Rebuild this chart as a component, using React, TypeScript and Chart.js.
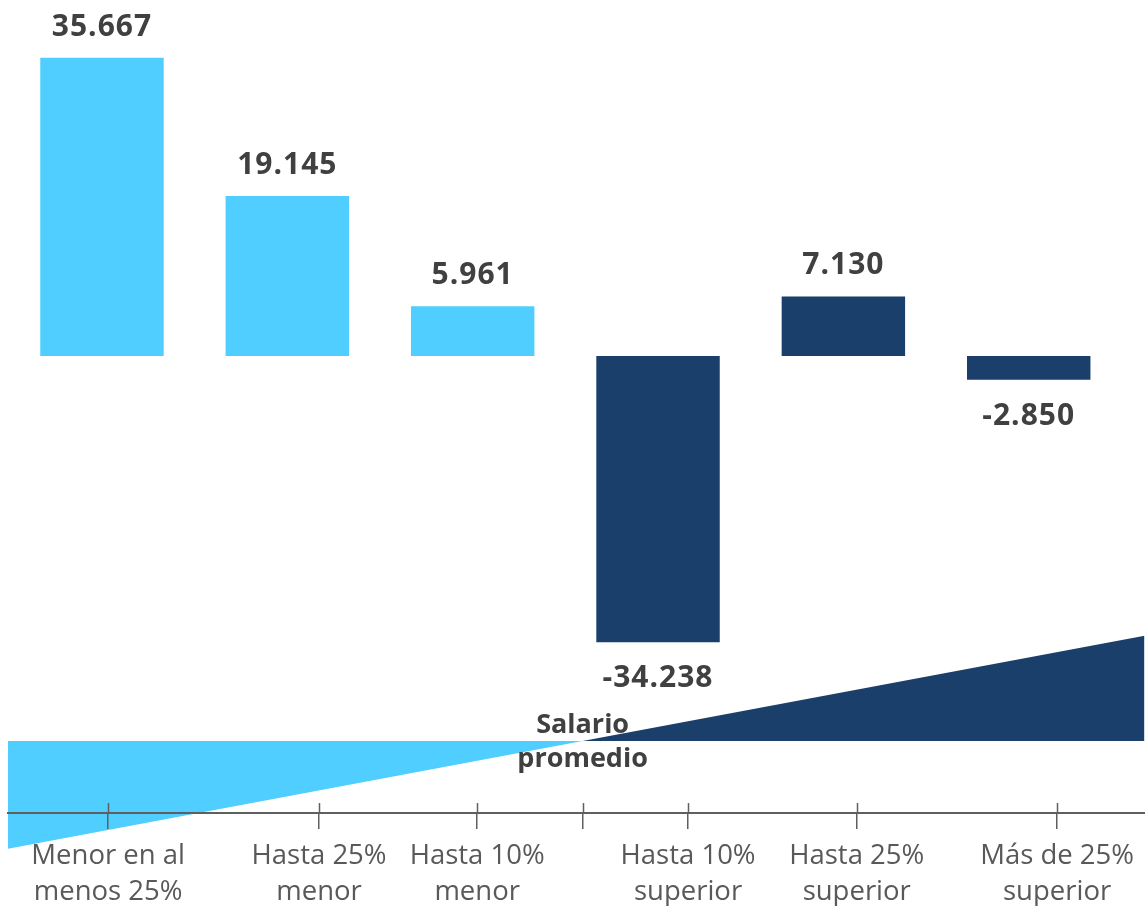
import React, { useEffect, useRef } from 'react';
import { Chart, registerables } from 'chart.js';

Chart.register(...registerables);

// ---------- data ----------
const CATEGORIES = [
  'Menor en al menos 25%',
  'Hasta 25% menor',
  'Hasta 10% menor',
  'Hasta 10% superior',
  'Hasta 25% superior',
  'Más de 25% superior',
];
const VALUES = [35667, 19145, 5961, -34238, 7130, -2850];
const LIGHT = '#50CEFF';
const DARK = '#1A3F6B';
const BAR_COLORS = [LIGHT, LIGHT, LIGHT, DARK, DARK, DARK];

// bottom "distance from average salary" scale (percent deviation)
const AXIS_TICKS = [-45, -25, -10, 0, 10, 26, 45];
const AXIS_LABELS = [
  ['Menor en al', 'menos 25%'],
  ['Hasta 25%', 'menor'],
  ['Hasta 10%', 'menor'],
  [''],
  ['Hasta 10%', 'superior'],
  ['Hasta 25%', 'superior'],
  ['Más de 25%', 'superior'],
];
const WEDGE_BELOW = [
  { x: -54.5, y: -54.5 },
  { x: 0, y: 0 },
];
const WEDGE_ABOVE = [
  { x: 0, y: 0 },
  { x: 53.3, y: 53.3 },
];
const CENTER_LABEL = ['Salario', 'promedio'];

const FONT = '"Open Sans", "Noto Sans", sans-serif';
const TEXT_DARK = '#404040';
const AXIS_GREY = '#5f5f5f';

const fmt = (v: number) =>
  (v < 0 ? '-' : '') + Math.abs(v).toString().replace(/\B(?=(\d{3})+(?!\d))/g, '.');

const valueLabelPlugin = {
  id: 'valueLabels',
  afterDatasetsDraw(chart: any) {
    const ctx = chart.ctx;
    const meta = chart.getDatasetMeta(0);
    ctx.save();
    ctx.font = `bold 30px ${FONT}`;
    (ctx as any).letterSpacing = '1px';
    ctx.fillStyle = TEXT_DARK;
    ctx.textAlign = 'center';
    ctx.textBaseline = 'alphabetic';
    meta.data.forEach((bar: any, i: number) => {
      const v = VALUES[i];
      const y = v >= 0 ? bar.y - 22 : bar.y + 45;
      ctx.fillText(fmt(v), bar.x, y);
    });
    ctx.restore();
  },
};

const AXIS_LINE_VALUE = -36.4;

const bottomPlugin = {
  id: 'bottomDecor',
  afterDraw(chart: any) {
    const ctx = chart.ctx;
    const xs = chart.scales.x;
    const ys = chart.scales.y;
    const axisY = ys.getPixelForValue(AXIS_LINE_VALUE);
    ctx.save();
    // upper half of the tick marks
    ctx.strokeStyle = AXIS_GREY;
    ctx.lineWidth = 1.5;
    xs.ticks.forEach((t: any) => {
      const px = Math.round(xs.getPixelForValue(t.value)) + 0.5;
      ctx.beginPath();
      ctx.moveTo(px, axisY - 10);
      ctx.lineTo(px, axisY);
      ctx.stroke();
    });
    // centre label
    const cx = xs.getPixelForValue(0);
    const cy = ys.getPixelForValue(0);
    ctx.font = `bold 27px ${FONT}`;
    ctx.fillStyle = TEXT_DARK;
    ctx.textAlign = 'center';
    ctx.textBaseline = 'alphabetic';
    ctx.fillText(CENTER_LABEL[0], cx, cy - 8);
    ctx.fillText(CENTER_LABEL[1], cx, cy + 26);
    ctx.restore();
  },
};

export default function App() {
  const topRef = useRef<HTMLCanvasElement>(null);
  const bottomRef = useRef<HTMLCanvasElement>(null);

  useEffect(() => {
    let top: Chart | null = null;
    let bottom: Chart | null = null;
    let cancelled = false;

    const build = () => {
      if (cancelled || !topRef.current || !bottomRef.current) return;
      top = new Chart(topRef.current, {
        type: 'bar',
        data: {
          labels: CATEGORIES,
          datasets: [
            {
              data: VALUES,
              backgroundColor: BAR_COLORS,
              borderWidth: 0,
              categoryPercentage: 1,
              barPercentage: 0.666,
            },
          ],
        },
        options: {
          responsive: false,
          animation: false,
          layout: { padding: { left: 9.3, right: 23.6, top: 0, bottom: 0 } },
          plugins: { legend: { display: false }, tooltip: { enabled: false } },
          scales: {
            x: { display: false },
            y: { display: false, min: -42580, max: 42580 },
          },
        },
        plugins: [valueLabelPlugin],
      } as any);

      bottom = new Chart(bottomRef.current, {
        type: 'line',
        data: {
          datasets: [
            {
              data: WEDGE_BELOW,
              borderWidth: 0,
              pointRadius: 0,
              backgroundColor: LIGHT,
              borderColor: LIGHT,
              fill: { value: 0 },
            },
            {
              data: WEDGE_ABOVE,
              borderWidth: 0,
              pointRadius: 0,
              backgroundColor: DARK,
              borderColor: DARK,
              fill: { value: 0 },
            },
          ],
        },
        options: {
          responsive: false,
          animation: false,
          layout: { padding: { left: 8, right: 0, top: 620, bottom: 51 } },
          plugins: { legend: { display: false }, tooltip: { enabled: false } },
          scales: {
            x: {
              type: 'linear',
              min: -54.5,
              max: 53.3,
              position: { y: AXIS_LINE_VALUE },
              afterBuildTicks: (s: any) => {
                s.ticks = AXIS_TICKS.map((v) => ({ value: v }));
              },
              ticks: {
                autoSkip: false,
                maxRotation: 0,
                minRotation: 0,
                padding: 11,
                z: 1,
                color: '#595959',
                font: { family: FONT, size: 27.5, lineHeight: 1.28 },
                callback: (_v: any, i: number) => AXIS_LABELS[i],
              },
              grid: {
                drawOnChartArea: false,
                drawTicks: true,
                tickLength: 15,
                color: AXIS_GREY,
                lineWidth: 1.5,
                z: 1,
              },
              border: { display: true, color: AXIS_GREY, width: 2, z: 1 },
            },
            y: { type: 'linear', display: false, min: -57.6, max: 61.2 },
          },
        },
        plugins: [bottomPlugin],
      } as any);
    };

    const fonts = (document as any).fonts;
    if (fonts && fonts.load) {
      Promise.all([
        fonts.load(`27px ${FONT}`),
        fonts.load(`bold 30px ${FONT}`),
      ])
        .catch(() => null)
        .then(build);
    } else {
      build();
    }

    return () => {
      cancelled = true;
      if (top) top.destroy();
      if (bottom) bottom.destroy();
    };
  }, []);

  return (
    <div style={{ position: 'absolute', left: 0, top: 0, width: 1145, height: 906, background: '#fff' }}>
      <canvas
        ref={bottomRef}
        width={1145}
        height={906}
        style={{ position: 'absolute', left: 0, top: 0, width: 1145, height: 906 }}
      />
      <canvas
        ref={topRef}
        width={1145}
        height={712}
        style={{ position: 'absolute', left: 0, top: 0, width: 1145, height: 712 }}
      />
    </div>
  );
}
